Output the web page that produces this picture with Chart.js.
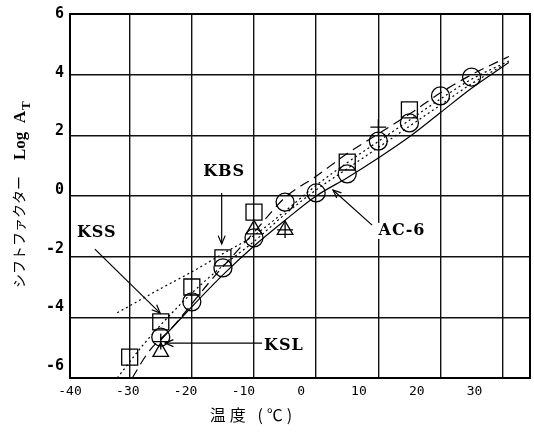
<!DOCTYPE html>
<html>
<head>
<meta charset="utf-8">
<script src="https://cdn.jsdelivr.net/npm/chart.js@4/dist/chart.umd.min.js"></script>
<style>
  html, body { margin: 0; padding: 0; background: #fff; }
  #wrap { width: 534px; height: 432px; }
</style>
</head>
<body>
<div id="wrap"><canvas id="shiftChart" width="534" height="432"></canvas></div>
<script>
// measured points: temperature (°C) vs log aT
const circleX = [-25, -20, -15, -10, -5, 0, 5, 10, 15, 20, 25];
const circleY = [-4.65, -3.49, -2.37, -1.38, -0.2, 0.1, 0.73, 1.81, 2.41, 3.3, 3.92];
const squareX = [-30, -25, -20, -15, -10, 5, 15];
const squareY = [-5.31, -4.15, -3.0, -2.04, -0.53, 1.12, 2.84];
const triangleX = [-25, -10, -5];
const triangleY = [-5.14, -1.1, -1.12];
const crossX = [-25, -5, 10];
const crossY = [-4.8, -1.12, 2.27];

// curves
const solidX = [-25, -20, -15, -10, -5, 0, 5, 10, 15, 20, 25, 31];
const solidY = [-4.75, -3.65, -2.6, -1.65, -0.8, 0.0, 0.6, 1.25, 1.95, 2.75, 3.55, 4.4];
const dashX = [-29.6, -27, -23, -17, -10, -5, 0, 5, 10, 15, 20, 25, 31];
const dashY = [-6.0, -5.15, -4.3, -2.8, -1.2, -0.05, 0.65, 1.4, 2.05, 2.7, 3.4, 4.0, 4.6];
const dotAX = [-32, -25, -20, -15, -10, -5, 0, 5, 10, 15, 20, 25, 31];
const dotAY = [-3.85, -3.05, -2.5, -1.9, -1.3, -0.5, 0.35, 1.1, 1.8, 2.5, 3.2, 3.85, 4.45];
const dotBX = [-32, -28, -25, -20, -15, -10, -5, 0, 5, 10, 15, 20, 25, 30];
const dotBY = [-6.0, -4.95, -4.25, -3.2, -2.3, -1.5, -0.6, 0.2, 0.9, 1.6, 2.3, 3.0, 3.7, 4.3];

// axes
const xGridLines = [-30, -20, -10, 0, 10, 20, 30];
const yGridLines = [-4, -2, 0, 2, 4];
const xTickLabels = [-40, -30, -20, -10, 0, 10, 20, 30];
const yTickLabels = [-6, -4, -2, 0, 2, 4, 6];

// callouts, in data units
const callouts = [
  { text: 'KBS', at: [-14.8, 0.79], from: [-15.2, 0.1], to: [-15.2, -1.58] },
  { text: 'KSS', at: [-35.3, -1.22], from: [-35.6, -1.75], to: [-25.1, -3.86] },
  { text: 'KSL', at: [-5.2, -4.95], from: [-8.7, -4.85], to: [-24.3, -4.85] },
  { text: 'AC-6', at: [13.8, -1.15], from: [9.0, -0.96], to: [2.7, 0.2] },
];

const pts = (xs, ys) => xs.map((x, i) => ({ x: x, y: ys[i] }));

function curve(xs, ys, dash) {
  return {
    data: pts(xs, ys),
    showLine: true,
    borderColor: '#000',
    borderWidth: 1.2,
    borderDash: dash,
    pointRadius: 0,
    cubicInterpolationMode: 'monotone',
  };
}

function marks(xs, ys, style, r) {
  return {
    data: pts(xs, ys),
    showLine: false,
    pointStyle: style,
    pointRadius: r,
    pointBorderColor: '#000',
    pointBackgroundColor: 'rgba(0,0,0,0)',
    pointBorderWidth: 1.3,
  };
}

function arrowHead(ctx, x1, y1, x2, y2) {
  const a = Math.atan2(y2 - y1, x2 - x1);
  const len = 9;
  ctx.beginPath();
  ctx.moveTo(x2 - len * Math.cos(a - 0.4), y2 - len * Math.sin(a - 0.4));
  ctx.lineTo(x2, y2);
  ctx.lineTo(x2 - len * Math.cos(a + 0.4), y2 - len * Math.sin(a + 0.4));
  ctx.stroke();
}

// keeps the label axes from shrinking the plot area
function noPad(s) {
  s.paddingLeft = 0;
  s.paddingRight = 0;
  s.paddingTop = 0;
  s.paddingBottom = 0;
}

const decorations = {
  id: 'decorations',
  beforeDatasetsDraw(chart) {
    const { ctx, chartArea: a } = chart;
    ctx.save();
    ctx.strokeStyle = '#000';
    ctx.lineWidth = 2;
    ctx.strokeRect(a.left, a.top, a.right - a.left, a.bottom - a.top);
    ctx.restore();
  },
  afterDatasetsDraw(chart) {
    const { ctx } = chart;
    const sx = chart.scales.x, sy = chart.scales.y;
    ctx.save();
    ctx.strokeStyle = '#000';
    ctx.fillStyle = '#000';
    ctx.lineWidth = 1.2;
    ctx.font = 'bold 16px "DejaVu Serif"';
    ctx.letterSpacing = '1px';
    ctx.textAlign = 'center';
    ctx.textBaseline = 'middle';
    callouts.forEach(c => {
      const x1 = sx.getPixelForValue(c.from[0]), y1 = sy.getPixelForValue(c.from[1]);
      const x2 = sx.getPixelForValue(c.to[0]), y2 = sy.getPixelForValue(c.to[1]);
      ctx.beginPath();
      ctx.moveTo(x1, y1);
      ctx.lineTo(x2, y2);
      ctx.stroke();
      arrowHead(ctx, x1, y1, x2, y2);
      const tx = sx.getPixelForValue(c.at[0]), ty = sy.getPixelForValue(c.at[1]);
      ctx.fillStyle = '#fff';
      const w = ctx.measureText(c.text).width;
      ctx.fillRect(tx - w / 2 - 1, ty - 8, w + 2, 16);
      ctx.fillStyle = '#000';
      ctx.fillText(c.text, tx, ty);
    });
    ctx.restore();
  },
  afterDraw(chart) {
    const { ctx } = chart;
    ctx.save();
    ctx.fillStyle = '#000';
    // x title
    ctx.font = '16px "Noto Sans CJK JP"';
    ctx.letterSpacing = '4px';
    ctx.textAlign = 'center';
    ctx.textBaseline = 'middle';
    ctx.fillText('温度 (℃)', 253, 415);
    // y title, rotated, with subscript T
    ctx.translate(21, 288);
    ctx.rotate(-Math.PI / 2);
    ctx.textAlign = 'left';
    ctx.letterSpacing = '0px';
    ctx.font = '14px "Noto Sans CJK JP"';
    const kana = 'シフトファクター';
    ctx.fillText(kana, 0, -2);
    let x = ctx.measureText(kana).width + 16;
    ctx.font = 'bold 17px "Liberation Serif"';
    ctx.fillText('Log  A', x, 0);
    x += ctx.measureText('Log  A').width + 1;
    ctx.font = 'bold 13px "Liberation Serif"';
    ctx.fillText('T', x, 6);
    ctx.restore();
  },
};

const ctx = document.getElementById('shiftChart').getContext('2d');
new Chart(ctx, {
  type: 'scatter',
  data: {
    datasets: [
      marks(circleX, circleY, 'circle', 9),
      marks(squareX, squareY, 'rect', 11.3),
      marks(triangleX, triangleY, 'triangle', 9),
      marks(crossX, crossY, 'cross', 8),
      curve(solidX, solidY, []),
      curve(dashX, dashY, [10, 6]),
      curve(dotAX, dotAY, [2, 3]),
      curve(dotBX, dotBY, [2, 3]),
    ],
  },
  options: {
    responsive: false,
    animation: false,
    layout: { autoPadding: false, padding: { top: 14, right: 4, bottom: 0, left: 0 } },
    plugins: { legend: { display: false }, tooltip: { enabled: false } },
    scales: {
      x: {
        type: 'linear',
        position: 'bottom',
        min: -39.6,
        max: 34.4,
        weight: 0,
        afterBuildTicks: s => { s.ticks = xGridLines.map(v => ({ value: v })); },
        afterFit: s => { s.height = 0; noPad(s); },
        grid: { color: '#111', lineWidth: 1.4, drawTicks: false },
        border: { display: false },
        ticks: { display: false },
      },
      xLabels: {
        type: 'linear',
        position: 'bottom',
        min: -40,
        max: 39.6,
        weight: 1,
        afterBuildTicks: s => { s.ticks = xTickLabels.map(v => ({ value: v })); },
        afterFit: s => { s.height = 54; noPad(s); },
        grid: { display: false, drawTicks: false },
        border: { display: false },
        ticks: {
          color: '#000',
          padding: 6,
          maxRotation: 0,
          autoSkip: false,
          font: { family: 'DejaVu Sans Mono', size: 13 },
        },
      },
      y: {
        type: 'linear',
        position: 'left',
        min: -6,
        max: 6,
        weight: 0,
        afterBuildTicks: s => { s.ticks = yGridLines.map(v => ({ value: v })); },
        afterFit: s => { s.width = 0; noPad(s); },
        grid: { color: '#111', lineWidth: 1.4, drawTicks: false },
        border: { display: false },
        ticks: { display: false },
      },
      yLabels: {
        type: 'linear',
        position: 'left',
        min: -6.4,
        max: 6,
        weight: 1,
        afterBuildTicks: s => { s.ticks = yTickLabels.map(v => ({ value: v })); },
        afterFit: s => { s.width = 70; noPad(s); },
        grid: { display: false, drawTicks: false },
        border: { display: false },
        ticks: {
          color: '#000',
          padding: 6,
          autoSkip: false,
          font: { family: 'DejaVu Sans Mono', size: 15, weight: 'bold' },
        },
      },
    },
  },
  plugins: [decorations],
});
</script>
</body>
</html>
